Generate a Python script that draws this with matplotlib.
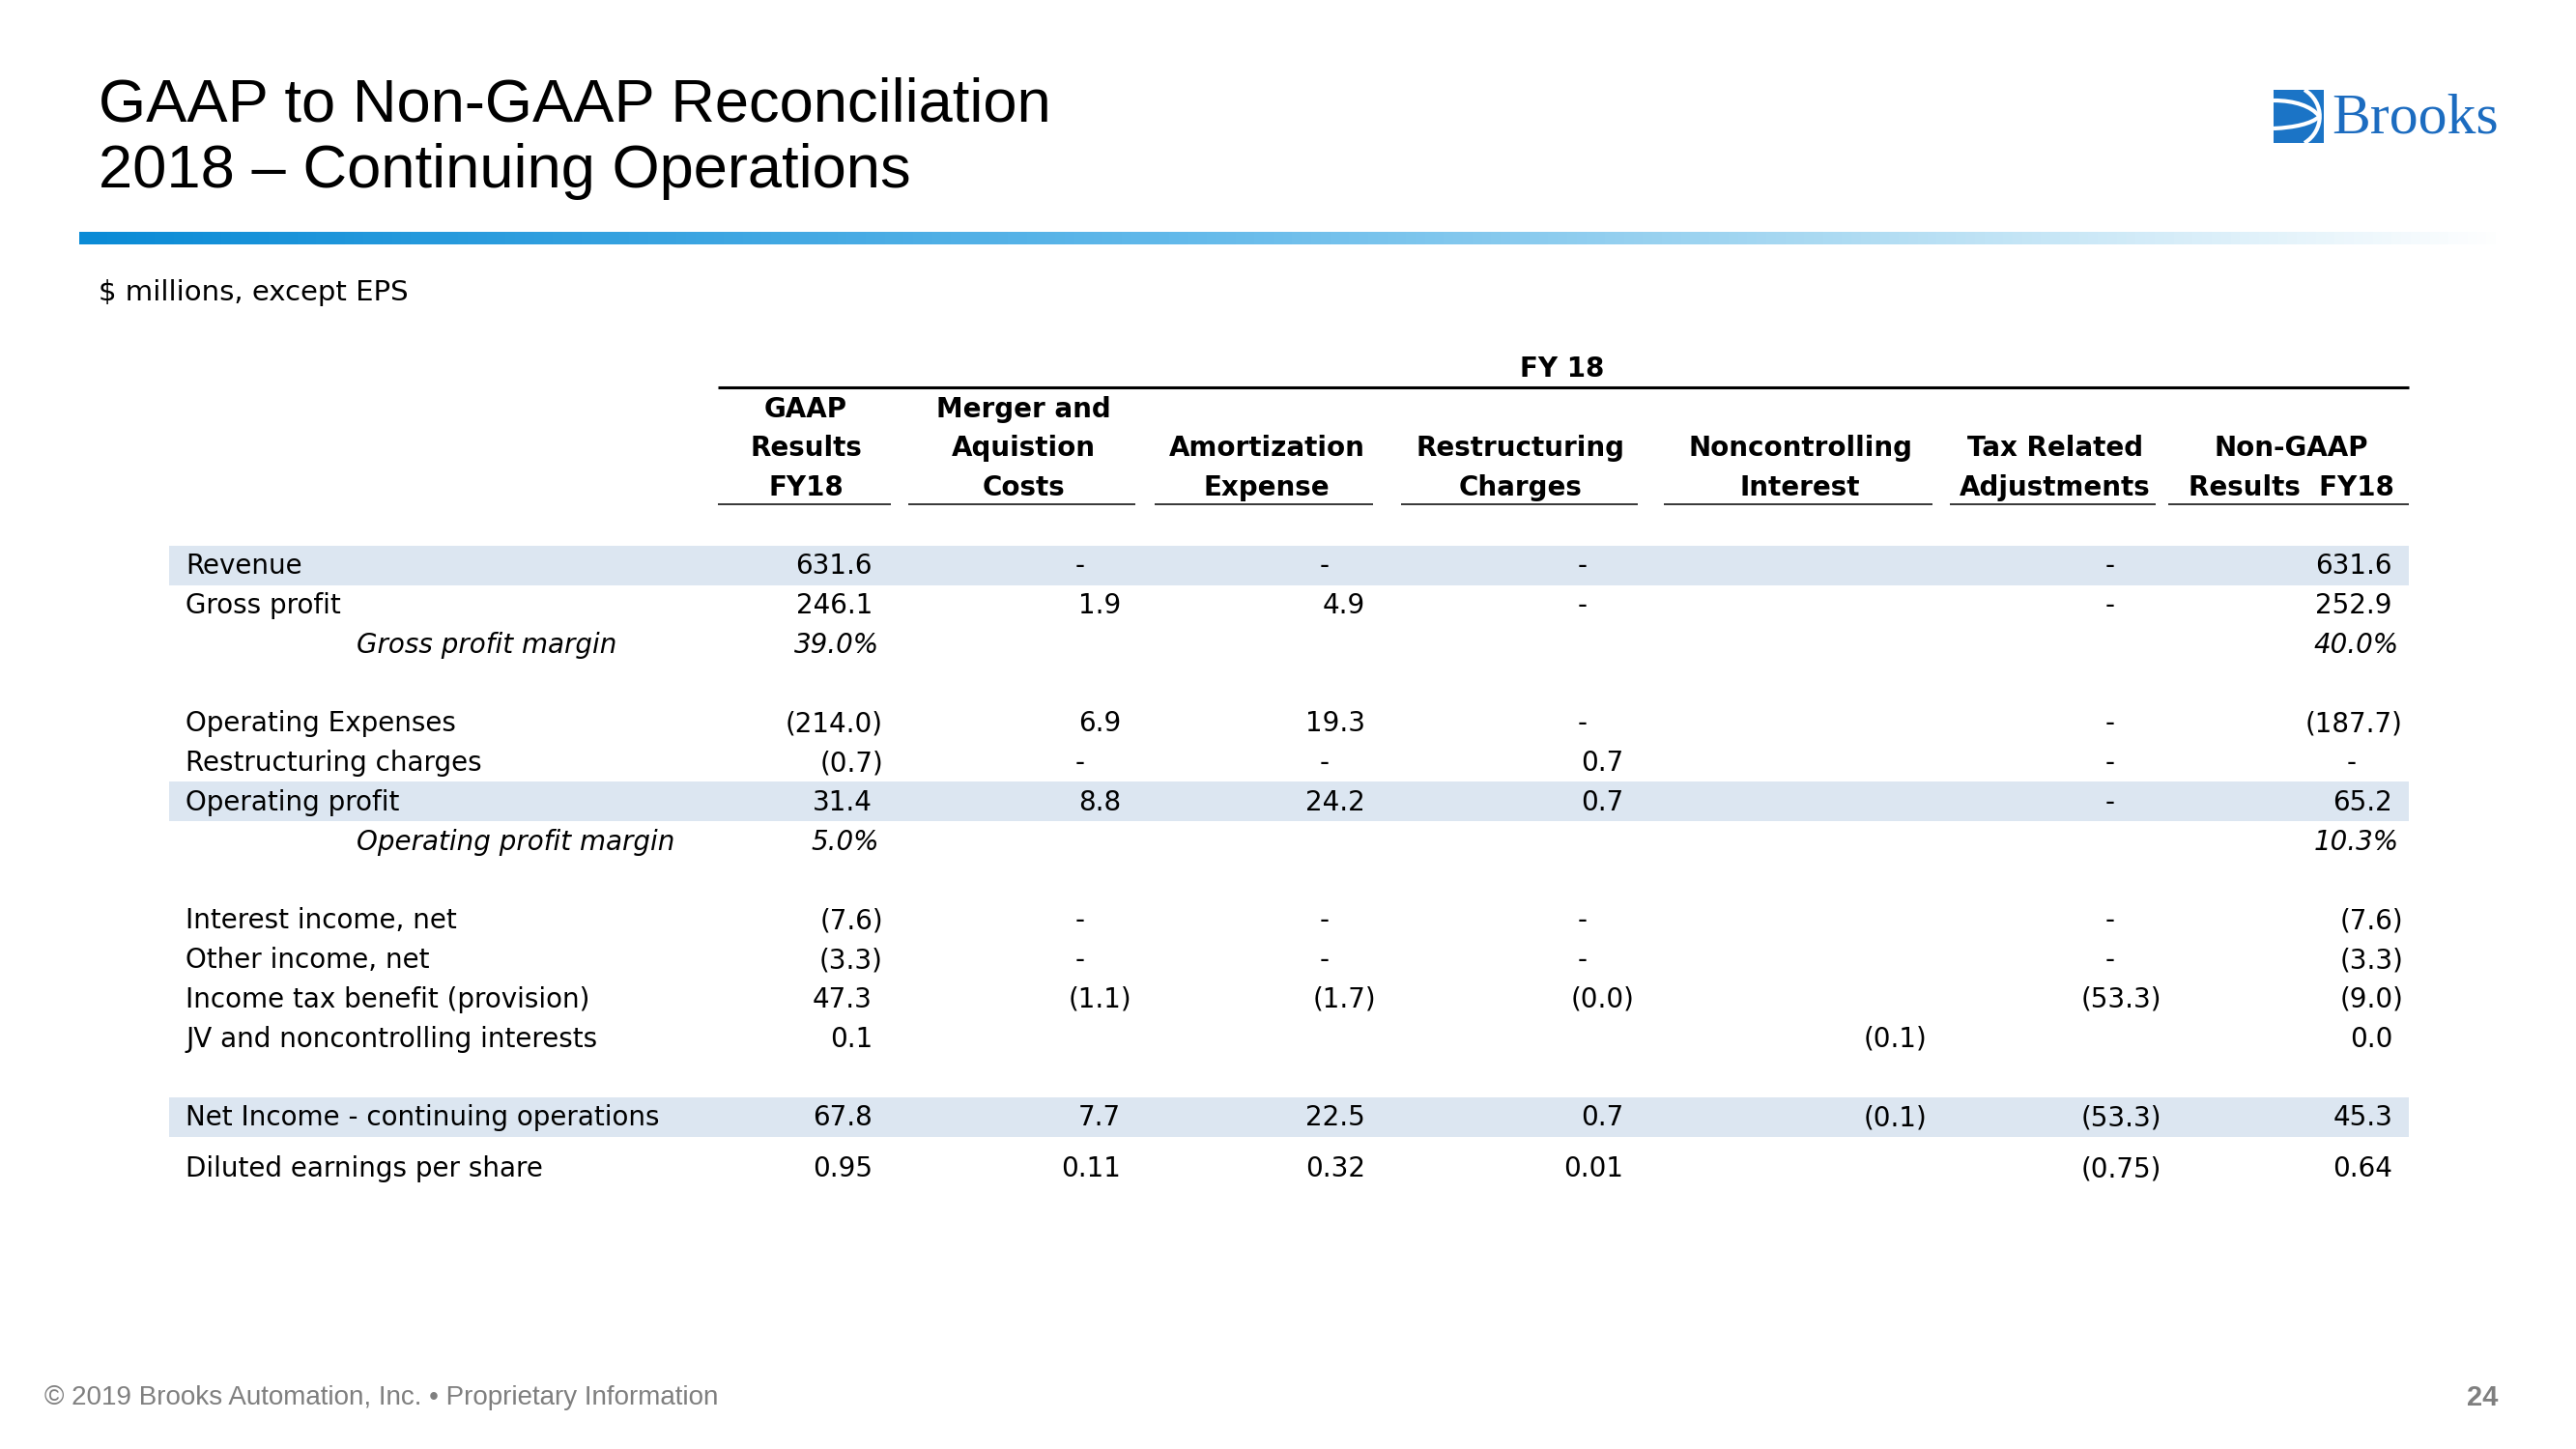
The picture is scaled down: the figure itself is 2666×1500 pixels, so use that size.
import matplotlib
matplotlib.use('Agg')
import matplotlib.pyplot as plt
import numpy as np
from matplotlib.colors import LinearSegmentedColormap
from matplotlib.patches import Rectangle, PathPatch
from matplotlib.path import Path

# ---- data ----
row_labels = ['Revenue', 'Gross profit', 'Gross profit margin',
              'Operating Expenses', 'Restructuring charges', 'Operating profit',
              'Operating profit margin', 'Interest income, net', 'Other income, net',
              'Income tax benefit (provision)', 'JV and noncontrolling interests',
              'Net Income - continuing operations', 'Diluted earnings per share']
row_kind = ['num', 'num', 'pct', 'num', 'num', 'num', 'pct',
            'num', 'num', 'num', 'num', 'num', 'eps']
shaded_rows = ['Revenue', 'Operating profit', 'Net Income - continuing operations']

col_headers = [['GAAP', 'Results', 'FY18'],
               ['Merger and', 'Aquistion', 'Costs'],
               ['', 'Amortization', 'Expense'],
               ['', 'Restructuring', 'Charges'],
               ['', 'Noncontrolling', 'Interest'],
               ['', 'Tax Related', 'Adjustments'],
               ['', 'Non-GAAP', 'Results  FY18']]

# None = blank cell, 0 = "-"
gaap = [631.6, 246.1, 39.0, -214.0, -0.7, 31.4, 5.0, -7.6, -3.3, 47.3, 0.1, 67.8, 0.95]
merger = [0, 1.9, None, 6.9, 0, 8.8, None, 0, 0, -1.1, None, 7.7, 0.11]
amort = [0, 4.9, None, 19.3, 0, 24.2, None, 0, 0, -1.7, None, 22.5, 0.32]
restr = [0, 0, None, 0, 0.7, 0.7, None, 0, 0, -0.01, None, 0.7, 0.01]
nonctrl = [None, None, None, None, None, None, None, None, None, None, -0.1, -0.1, None]
tax = [0, 0, None, 0, 0, 0, None, 0, 0, -53.3, None, -53.3, -0.75]
nongaap = [631.6, 252.9, 40.0, -187.7, 0, 65.2, 10.3, -7.6, -3.3, -9.0, 0.01, 45.3, 0.64]
columns = [gaap, merger, amort, restr, nonctrl, tax, nongaap]


def fmt(v, kind):
    if v is None:
        return None
    if kind == 'pct':
        return f'{v:.1f}%'
    if v == 0:
        return '-'
    d = 2 if kind == 'eps' else 1
    s = f'{abs(v):.{d}f}'
    return f'({s})' if v < 0 else s


# ---- layout ----
W, H = 2666, 1500
fig = plt.figure(figsize=(W / 100, H / 100), dpi=100)
ax = fig.add_axes([0, 0, 1, 1])

body = 'DejaVu Sans'
fs = 20
black = '#000000'

# title
ax.text(102, 126, 'GAAP to Non-GAAP Reconciliation', fontsize=45.5,
        family='Liberation Sans', va='baseline', color=black)
ax.text(102, 194, '2018 \u2013 Continuing Operations', fontsize=45.5,
        family='Liberation Sans', va='baseline', color=black)

# gradient bar
cmap = LinearSegmentedColormap.from_list(
    'bar', [(0, '#0a8bd6'), (0.45, '#62b9ea'), (0.72, '#abdaf2'), (1, '#ffffff')])
ax.imshow(np.linspace(0, 1, 512)[None, :], extent=[82, 2593, 253, 240],
          cmap=cmap, aspect='auto', zorder=1)

# logo
ax.add_patch(Rectangle((2353, 93), 52, 55, fc='#1b74c6', ec='none', zorder=2))
curves = [[(2385, 93), (2406, 106), (2406, 135), (2385, 148)],
          [(2353, 104), (2375, 104), (2392, 110), (2400, 120)],
          [(2353, 133), (2375, 132), (2392, 128), (2400, 121)]]
for pts in curves:
    p = Path(pts, [Path.MOVETO, Path.CURVE4, Path.CURVE4, Path.CURVE4])
    ax.add_patch(PathPatch(p, fc='none', ec='white', lw=3, zorder=3))
ax.text(2413, 138, 'Brooks', fontsize=43, family='Liberation Serif',
        color='#1c6cc0', va='baseline')

ax.text(102, 303, '$ millions, except EPS', fontsize=21, family=body,
        va='center', color=black)

# header
ax.text(1617, 390, 'FY 18', fontsize=fs, family=body, weight='bold',
        ha='center', va='baseline')
ax.plot([743, 2493], [401, 401], color=black, lw=2.2, solid_capstyle='butt')

hdr_x = [834, 1059, 1311, 1574, 1863, 2127, 2371]
seg = [(743, 922), (940, 1175), (1195, 1421), (1450, 1695),
       (1722, 2000), (2018, 2231), (2244, 2493)]
hdr_y = [422, 462, 503]
for j, lines in enumerate(col_headers):
    for k, t in enumerate(lines):
        if t:
            ax.text(hdr_x[j], hdr_y[k] + 10, t, fontsize=fs, family=body,
                    weight='bold', ha='center', va='baseline')
    ax.plot(seg[j], [522, 522], color=black, lw=1.1, solid_capstyle='butt')

# body rows
row_slot = [0, 1, 2, 4, 5, 6, 7, 9, 10, 11, 12, 14, 15.3]
row_y0, pitch = 585, 40.8
col_right = [903, 1160, 1413, 1680, 1983, 2226, 2476]

for i, label in enumerate(row_labels):
    y = row_y0 + row_slot[i] * pitch
    kind = row_kind[i]
    if label in shaded_rows:
        ax.add_patch(Rectangle((175, y - 20.5), 2318, 41, fc='#dce6f1',
                               ec='none', zorder=0))
    style = 'italic' if kind == 'pct' else 'normal'
    lx = 369 if kind == 'pct' else 192
    ax.text(lx, y + 9, label, fontsize=fs, family=body, style=style,
            va='baseline')
    for j, col in enumerate(columns):
        s = fmt(col[i], kind)
        if s is None:
            continue
        xr = col_right[j]
        if s == '-':
            ax.text(xr - 42, y + 9, s, fontsize=fs, family=body,
                    ha='center', va='baseline')
        elif s.startswith('('):
            ax.text(xr + 11, y + 9, s, fontsize=fs, family=body,
                    ha='right', va='baseline')
        elif kind == 'pct':
            ax.text(xr + 7, y + 9, s, fontsize=fs, family=body,
                    style='italic', ha='right', va='baseline')
        else:
            ax.text(xr, y + 9, s, fontsize=fs, family=body,
                    ha='right', va='baseline')

# footer
ax.text(46, 1447, '\u00a9 2019 Brooks Automation, Inc. \u2022 Proprietary Information',
        fontsize=20, family='Liberation Sans', color='#7f7f7f', va='center')
ax.text(2569, 1447, '24', fontsize=21, family='Liberation Sans', weight='bold',
        color='#7f7f7f', ha='center', va='center')

ax.set_xlim(0, W)
ax.set_ylim(H, 0)
ax.axis('off')

fig.savefig('out.png', dpi=100, facecolor='white')
